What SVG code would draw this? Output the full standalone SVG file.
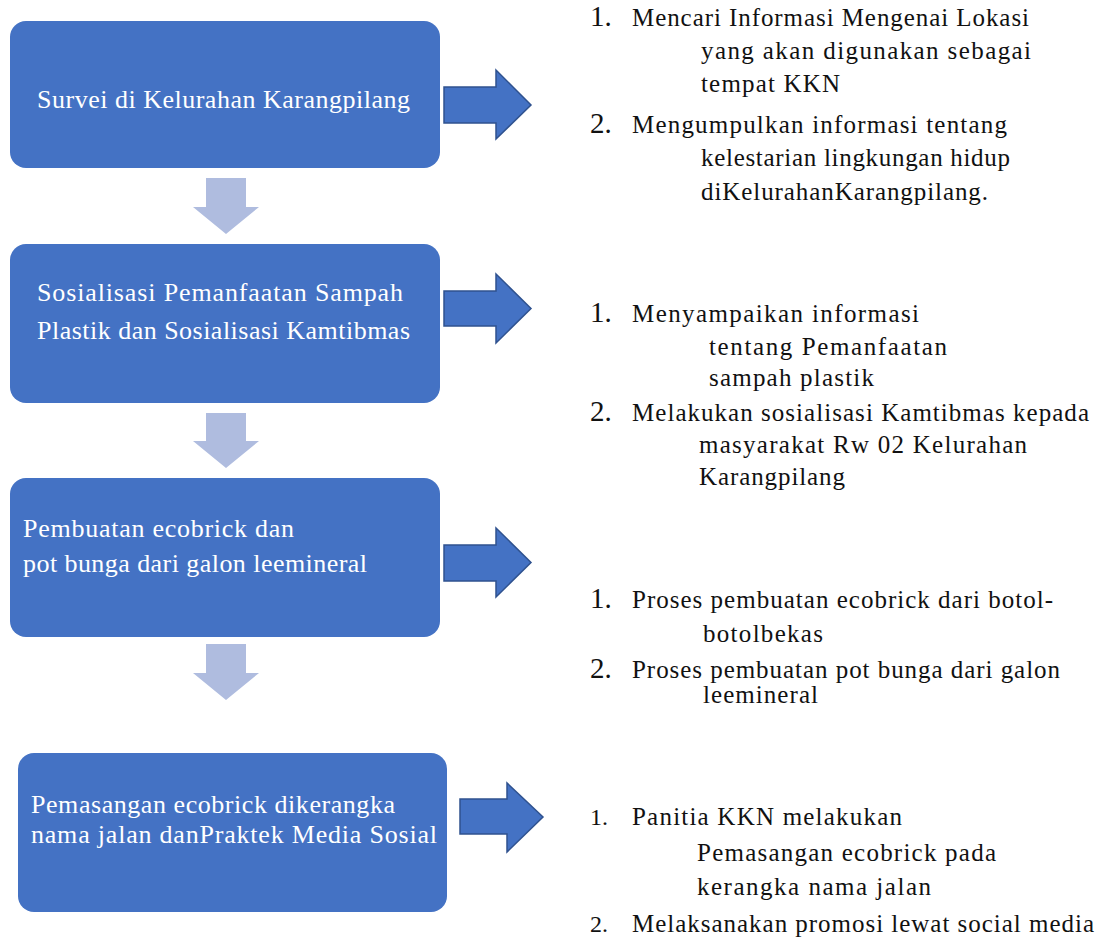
<svg xmlns="http://www.w3.org/2000/svg" width="1096" height="938" viewBox="0 0 1096 938">
<style>
.box{fill:#4472C4}
text{font-family:'Liberation Serif','Times New Roman',serif}
.bt{font-size:26px;fill:#ffffff}
.lt{font-size:25px;fill:#111111}
.num{font-size:29px;fill:#111111}
.num2{font-size:24px;fill:#111111}
.ra{fill:#4472C4;stroke:#2F528F;stroke-width:1.5;stroke-linejoin:miter}
.da{fill:#AFBCDF}
</style>
<rect width="1096" height="938" fill="#ffffff"/>
<g id="connectors">
  <path class="ra" d="M444,87 H496 V70 L531,105 L496,139 V123 H444 Z"/>
  <path class="ra" d="M444,291 H496 V274 L531,308.5 L496,343 V326 H444 Z"/>
  <path class="ra" d="M444,545 H496 V528 L531,562.5 L496,597 V581 H444 Z"/>
  <path class="ra" d="M460,799 H507 V783 L543,817 L507,852 V834 H460 Z"/>
  <path class="da" d="M206,178 H246 V207 H259 L226,234 L193,207 H206 Z"/>
  <path class="da" d="M206,413 H246 V441 H259 L226,468 L193,441 H206 Z"/>
  <path class="da" d="M206,644 H246 V673 H259 L226,700 L193,673 H206 Z"/>
</g>
<g id="node1">
  <rect class="box" x="10" y="21" width="430" height="147" rx="16"/>
  <text class="bt" x="37" y="108" textLength="373" lengthAdjust="spacing">Survei di Kelurahan Karangpilang</text>
</g>
<g id="node2">
  <rect class="box" x="10" y="244" width="430" height="159" rx="16"/>
  <text class="bt" x="37" y="301" textLength="366" lengthAdjust="spacing">Sosialisasi Pemanfaatan Sampah</text>
  <text class="bt" x="37" y="339" textLength="373" lengthAdjust="spacing">Plastik dan Sosialisasi Kamtibmas</text>
</g>
<g id="node3">
  <rect class="box" x="10" y="478" width="430" height="159" rx="16"/>
  <text class="bt" x="23" y="537" textLength="271" lengthAdjust="spacing">Pembuatan ecobrick dan</text>
  <text class="bt" x="23" y="572" textLength="344" lengthAdjust="spacing">pot bunga dari galon leemineral</text>
</g>
<g id="node4">
  <rect class="box" x="18" y="753" width="429" height="159" rx="16"/>
  <text class="bt" x="31" y="813" textLength="364" lengthAdjust="spacing">Pemasangan ecobrick dikerangka</text>
  <text class="bt" x="31" y="843" textLength="406" lengthAdjust="spacing">nama jalan danPraktek Media Sosial</text>
</g>
<g id="list1">
  <text class="num" x="590" y="26">1.</text>
  <text class="lt" x="632" y="26" textLength="397" lengthAdjust="spacing">Mencari Informasi Mengenai Lokasi</text>
  <text class="lt" x="701" y="59" textLength="330" lengthAdjust="spacing">yang akan digunakan sebagai</text>
  <text class="lt" x="701" y="92" textLength="139" lengthAdjust="spacing">tempat KKN</text>
  <text class="num" x="590" y="133">2.</text>
  <text class="lt" x="632" y="133" textLength="375" lengthAdjust="spacing">Mengumpulkan informasi tentang</text>
  <text class="lt" x="701" y="166" textLength="309" lengthAdjust="spacing">kelestarian lingkungan hidup</text>
  <text class="lt" x="701" y="200" textLength="287" lengthAdjust="spacing">diKelurahanKarangpilang.</text>
</g>
<g id="list2">
  <text class="num" x="590" y="322">1.</text>
  <text class="lt" x="632" y="322" textLength="287" lengthAdjust="spacing">Menyampaikan informasi</text>
  <text class="lt" x="709" y="355" textLength="238" lengthAdjust="spacing">tentang Pemanfaatan</text>
  <text class="lt" x="709" y="386" textLength="165" lengthAdjust="spacing">sampah plastik</text>
  <text class="num" x="590" y="421">2.</text>
  <text class="lt" x="632" y="421" textLength="457" lengthAdjust="spacing">Melakukan sosialisasi Kamtibmas kepada</text>
  <text class="lt" x="699" y="453" textLength="328" lengthAdjust="spacing">masyarakat Rw 02 Kelurahan</text>
  <text class="lt" x="699" y="485" textLength="146" lengthAdjust="spacing">Karangpilang</text>
</g>
<g id="list3">
  <text class="num" x="590" y="608">1.</text>
  <text class="lt" x="632" y="608" textLength="421" lengthAdjust="spacing">Proses pembuatan ecobrick dari botol-</text>
  <text class="lt" x="703" y="642" textLength="120" lengthAdjust="spacing">botolbekas</text>
  <text class="num" x="590" y="678">2.</text>
  <text class="lt" x="632" y="678" textLength="428" lengthAdjust="spacing">Proses pembuatan pot bunga dari galon</text>
  <text class="lt" x="703" y="703" textLength="115" lengthAdjust="spacing">leemineral</text>
</g>
<g id="list4">
  <text class="num2" x="590" y="825">1.</text>
  <text class="lt" x="632" y="825" textLength="270" lengthAdjust="spacing">Panitia KKN melakukan</text>
  <text class="lt" x="697" y="861" textLength="299" lengthAdjust="spacing">Pemasangan ecobrick pada</text>
  <text class="lt" x="697" y="895" textLength="234" lengthAdjust="spacing">kerangka nama jalan</text>
  <text class="num2" x="590" y="932">2.</text>
  <text class="lt" x="632" y="932" textLength="462" lengthAdjust="spacing">Melaksanakan promosi lewat social media</text>
</g>
</svg>
